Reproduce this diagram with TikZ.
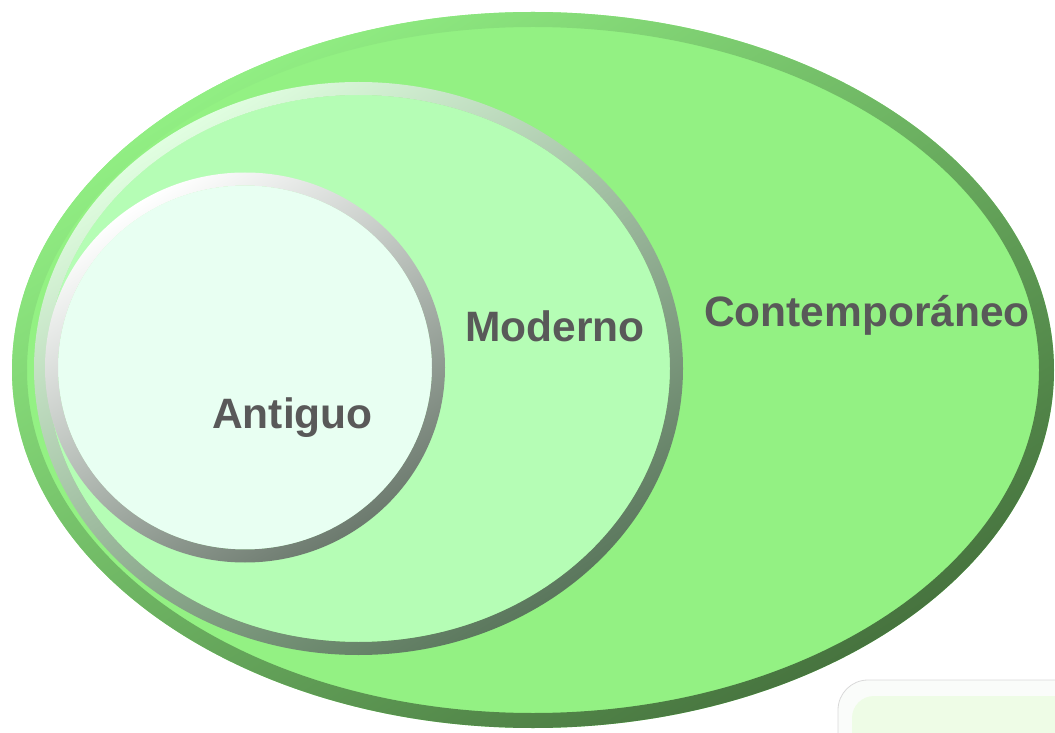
\documentclass[tikz,border=0pt]{standalone}
\usepackage{fontspec}
\setmainfont{Liberation Sans}
\definecolor{outerfill}{RGB}{147,241,131}
\definecolor{outerlight}{RGB}{146,240,132}
\definecolor{outerdark}{RGB}{70,114,62}
\definecolor{midfill}{RGB}{181,253,181}
\definecolor{midlight}{RGB}{225,255,225}
\definecolor{middark}{RGB}{90,118,92}
\definecolor{innfill}{RGB}{232,255,242}
\definecolor{innlight}{RGB}{255,255,255}
\definecolor{inndark}{RGB}{108,122,110}
\definecolor{txt}{RGB}{89,89,89}
\definecolor{boxfill}{RGB}{238,252,230}
\definecolor{boxrim}{RGB}{250,252,250}
\begin{document}
\begin{tikzpicture}[x=1pt,y=1pt,
  lbl/.style={text=txt,font=\fontsize{42.5}{50}\selectfont\bfseries,anchor=base,inner sep=0pt},
  ring/.style 2 args={even odd rule,top color=#1,bottom color=#2,shading angle=32}]
\useasboundingbox (0,0) rectangle (1055,732);
\begin{scope}
\clip (0,0) rectangle (1055,732);
% bottom-right panel
\fill[boxrim,draw=black!15,line width=0.8pt,rounded corners=30pt] (838,52) rectangle (1120,-60);
\fill[boxfill,rounded corners=22pt] (852,36) rectangle (1120,-60);
% outer ellipse
\fill[outerfill] (533,362) ellipse (521 and 358);
\shade[ring={outerlight}{outerdark}]
  (533,362) ellipse (521 and 358) (533,362) ellipse (506 and 343);
% middle ellipse
\fill[midfill] (358.5,363.5) ellipse (311.5 and 273.5);
\shade[ring={midlight}{middark}]
  (358.5,363.5) ellipse (324.5 and 286.5) (358.5,363.5) ellipse (311.5 and 273.5);
% inner circle
\fill[innfill] (245,364.5) ellipse (187 and 182);
\shade[ring={innlight}{inndark}]
  (245,364.5) ellipse (200 and 195) (245,364.5) ellipse (187 and 182);
\end{scope}
\node[lbl] (contemp) at (867,405) {Contemporáneo};
\node[lbl] (moderno) at (555,390) {Moderno};
\node[lbl] (antiguo) at (292.5,304) {Antiguo};
\end{tikzpicture}
\end{document}
